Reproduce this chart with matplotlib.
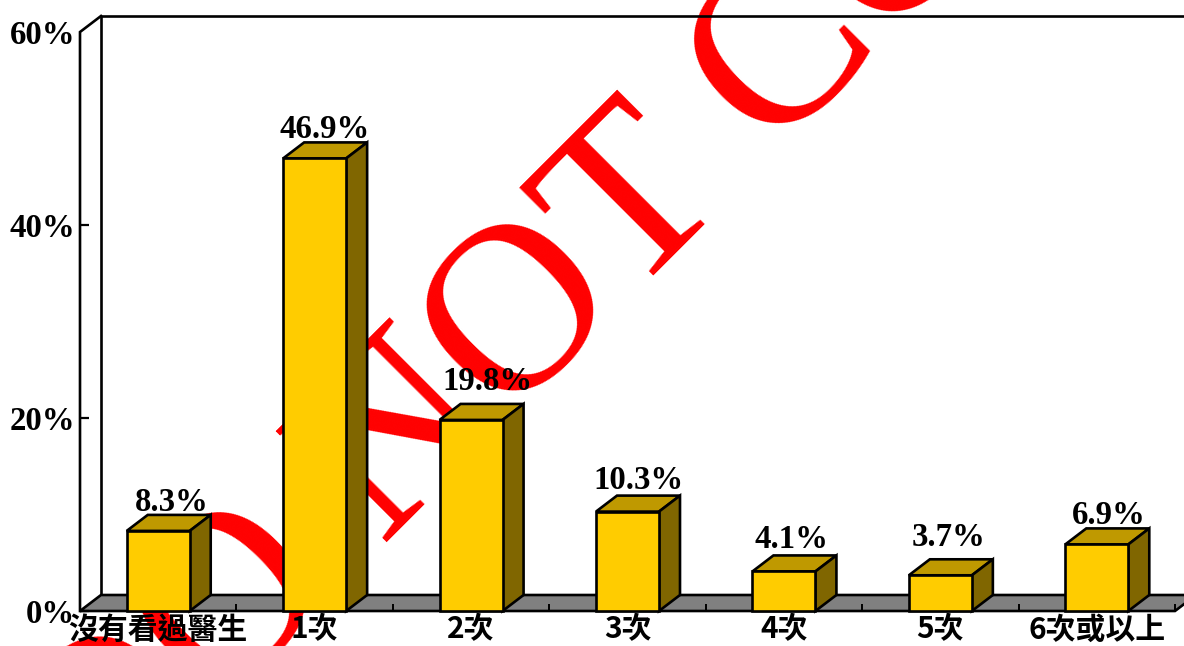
import matplotlib
matplotlib.use("Agg")
import matplotlib.pyplot as plt
from matplotlib.patches import Polygon

categories = ["沒有看過醫生", "1次", "2次", "3次", "4次", "5次", "6次或以上"]
values = [8.3, 46.9, 19.8, 10.3, 4.1, 3.7, 6.9]
yticks = [0, 20, 40, 60]
label_shift_x = [3, 0, 6, 0, -3, -2, 2]
label_shift_y = [-4, -3, 6, -1, 0, 6, -3]

W, H = 1184, 646
fig = plt.figure(figsize=(W / 100, H / 100), dpi=100, facecolor="white")
L, R, B, T = 80, 1175, 611, 32
ax = fig.add_axes([L / W, 1 - B / H, (R - L) / W, (B - T) / H])
ax.set_zorder(2)
ax.set_xlim(-0.5, 6.5)
ax.set_ylim(0, 60)
ax.patch.set_alpha(0)
for s in ax.spines.values():
    s.set_visible(False)
ax.set_axisbelow(False)

px = 7 / (R - L)
py = 60 / (B - T)
dx, dy = 21 * px, 16 * py
hw = 31.5 * px
LW = 1.9

# watermark, behind everything
fig.text(619 / W, 1 - 229 / H, "DO NOT COPY", color="#FF0000", fontsize=173,
         family="Liberation Serif", rotation=45, rotation_mode="anchor",
         ha="center", va="center", zorder=0)


def poly(pts, fc, z):
    ax.add_patch(Polygon(pts, closed=True, fc=fc, ec="black", lw=LW, zorder=z,
                         clip_on=False, joinstyle="miter"))


# walls and floor
x0, x1 = -0.5, 6.5
ax.plot([x0 + dx, x0 + dx, x1 + dx], [dy, 60 + dy, 60 + dy], color="black", lw=LW,
        zorder=1, clip_on=False, solid_joinstyle="miter")
ax.plot([x0, x0, x0 + dx], [0, 60, 60 + dy], color="black", lw=LW, zorder=1,
        clip_on=False, solid_joinstyle="miter")
poly([(x0, 0), (x1, 0), (x1 + dx, dy), (x0 + dx, dy)], "#808080", 2)

for i, v in enumerate(values):
    a, b = i - hw, i + hw
    poly([(a, 0), (b, 0), (b, v), (a, v)], "#FFCC00", 6)
    poly([(a, v), (b, v), (b + dx, v + dy), (a + dx, v + dy)], "#BF9900", 5)
    poly([(b, 0), (b + dx, dy), (b + dx, v + dy), (b, v)], "#806600", 5)
    ax.annotate(f"{v}%", (i + 0.5 * dx, v + dy + 0.05),
                xytext=(label_shift_x[i] * 0.72, label_shift_y[i] * 0.72),
                textcoords="offset points", ha="center", va="bottom",
                family="Liberation Serif", weight="bold", fontsize=23.6, zorder=7,
                annotation_clip=False)

ax.set_yticks(yticks, [f"{t}%" for t in yticks], family="Liberation Serif",
              weight="bold", fontsize=23.6)
ax.tick_params(axis="y", length=6.5, width=1.6, direction="in", pad=3.5)
ax.yaxis.get_major_ticks()[-1].tick1line.set_visible(False)
ax.set_xticks(range(len(categories)), categories, family="Noto Sans CJK TC",
              weight="bold", fontsize=21.5)
ax.set_xticks([i - 0.5 for i in range(len(categories) + 1)], minor=True)
ax.tick_params(axis="x", which="major", length=0, pad=2.5)
ax.tick_params(axis="x", which="minor", length=5, width=1.4, direction="in")

fig.savefig("out.png", dpi=100)
